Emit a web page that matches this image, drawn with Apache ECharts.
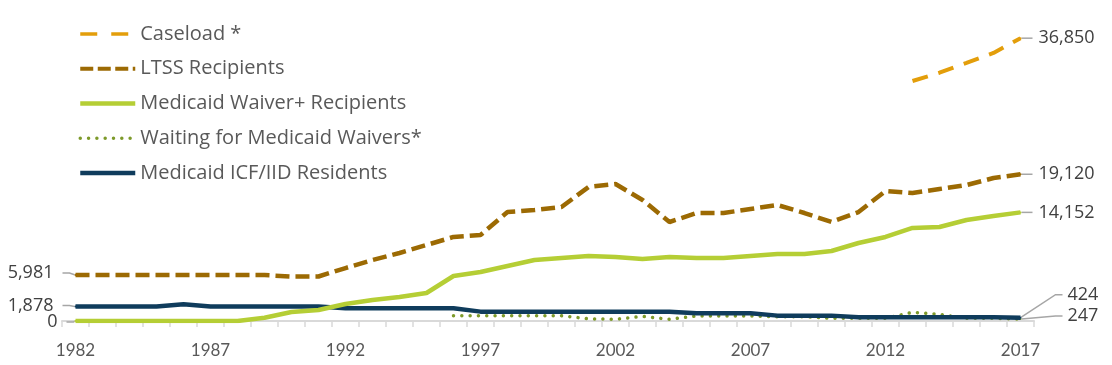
<!DOCTYPE html>
<html><head><meta charset="utf-8">
<script src="https://cdn.jsdelivr.net/npm/echarts@6/dist/echarts.min.js"></script>
<style>html,body{margin:0;padding:0;background:#fff}#c{width:1112px;height:365px}</style>
</head><body><div id="c"></div>
<script>
const years = ['1982','1983','1984','1985','1986','1987','1988','1989','1990','1991',
  '1992','1993','1994','1995','1996','1997','1998','1999','2000','2001',
  '2002','2003','2004','2005','2006','2007','2008','2009','2010','2011',
  '2012','2013','2014','2015','2016','2017'];
const xTickLabels = ['1982','1987','1992','1997','2002','2007','2012','2017'];

const caseload = [null,null,null,null,null,null,null,null,null,null,
  null,null,null,null,null,null,null,null,null,null,
  null,null,null,null,null,null,null,null,null,null,
  null,31270,32350,33620,34920,36850];
const ltss = [5981,5981,5981,5981,5981,5981,5981,5981,5800,5800,
  6900,7950,8860,9900,10950,11200,14200,14460,14850,17460,
  17850,15770,12900,14070,14070,14590,15110,14070,12900,14200,
  16940,16680,17200,17720,18630,19120];
const waiver = [0,0,0,0,0,0,0,430,1170,1430,
  2220,2740,3130,3650,5860,6380,7170,7950,8210,8470,
  8340,8080,8340,8210,8210,8470,8730,8730,9120,10160,
  10950,12120,12250,13160,13680,14152];
const waiting = [null,null,null,null,null,null,null,null,null,null,
  null,null,null,null,690,690,690,690,690,280,
  220,600,220,650,650,650,560,560,350,350,
  350,1130,870,350,350,247];
const icf = [1878,1878,1878,1878,2180,1878,1878,1878,1878,1878,
  1650,1650,1650,1650,1650,1220,1220,1220,1220,1220,
  1220,1220,1220,1000,1000,1000,700,700,700,500,
  500,500,500,500,500,424];

const FONT = 'Lato';
const LABEL_FONT = 'Open Sans';
const LEGEND_FONT = 'Open Sans';
const LABEL_COLOR = '#404040';
const LEADER = '#A6A6A6';

// label specs: index -> {pos, dx, dy, gap}
function buildData(values, color, specs) {
  return values.map((v, i) => {
    const s = specs[i];
    if (!s || v == null) return v;
    return {
      value: v, symbol: 'circle', symbolSize: 2,
      itemStyle: {color: color},
      label: {
        show: true, position: s.pos, distance: 5,
        formatter: p => {
          const t = '{v|' + Number(p.value).toLocaleString('en-US') + '}';
          return s.pos === 'right' ? '{g|\u00a0}' + t : t + '{g|\u00a0}';
        },
        rich: {
          g: {width: s.gap, fontSize: 18, fontFamily: LABEL_FONT},
          v: {fontFamily: LABEL_FONT, fontSize: 18, color: LABEL_COLOR}
        }
      },
      labelLine: {show: true}
    };
  });
}
function layoutFrom(specs) {
  return function (p) {
    const s = specs[p.dataIndex];
    return s ? {dx: s.dx, dy: s.dy} : {};
  };
}
const last = years.length - 1;
function mkSeries(name, values, color, lineStyle, specs, z) {
  return {
    name: name, type: 'line', data: buildData(values, color, specs),
    symbol: 'none', showSymbol: true, showAllSymbol: true,
    z: z,
    itemStyle: {color: color},
    lineStyle: Object.assign({color: color}, lineStyle),
    label: {fontFamily: LABEL_FONT, fontSize: 18, color: LABEL_COLOR},
    labelLine: {show: false, length2: 7, minTurnAngle: 0, lineStyle: {color: LEADER, width: 1.5}},
    labelLayout: layoutFrom(specs),
    emphasis: {disabled: true},
    connectNulls: false
  };
}

const specCase = {}; specCase[last] = {pos: 'right', dx: 6, dy: 0, gap: 6};
const specLtss = {0: {pos: 'left', dx: -7, dy: -2, gap: 9}}; specLtss[last] = {pos: 'right', dx: 6, dy: 0, gap: 6};
const specWaiver = {0: {pos: 'left', dx: -3, dy: 1, gap: 9}}; specWaiver[last] = {pos: 'right', dx: 6, dy: 0, gap: 6};
const specWaiting = {}; specWaiting[last] = {pos: 'right', dx: 36, dy: -3, gap: 5};
const specIcf = {0: {pos: 'left', dx: -7, dy: -1, gap: 9}}; specIcf[last] = {pos: 'right', dx: 36, dy: -23, gap: 5};

const series = [
  mkSeries('Waiting for Medicaid Waivers*', waiting, '#7D9A2A', {width: 3.5, type: [0.01, 8.3], cap: 'round'}, specWaiting, 2),
  mkSeries('Medicaid ICF/IID Residents', icf, '#0F3C5C', {width: 4.5}, specIcf, 3),
  mkSeries('Medicaid Waiver+ Recipients', waiver, '#B5CE35', {width: 4.5}, specWaiver, 4),
  mkSeries('LTSS Recipients', ltss, '#9C6A03', {width: 4.5, type: [14, 6]}, specLtss, 5),
  mkSeries('Caseload *', caseload, '#E39E0B', {width: 4, type: [16, 11]}, specCase, 6)
];

const chart = echarts.init(document.getElementById('c'), null, {renderer: 'canvas'});
chart.setOption({
  animation: false,
  backgroundColor: '#fff',
  grid: {left: 62, right: 78, top: 14, bottom: 44, containLabel: false},
  legend: {
    orient: 'vertical', left: 73, top: 19,
    itemWidth: 55, itemHeight: 14, itemGap: 14.75,
    data: [
      {name: 'Caseload *', lineStyle: {type: [17, 14], width: 3.5}},
      {name: 'LTSS Recipients', lineStyle: {type: [13, 4.5], width: 4}},
      'Medicaid Waiver+ Recipients',
      'Waiting for Medicaid Waivers*',
      'Medicaid ICF/IID Residents'
    ],
    textStyle: {fontFamily: LEGEND_FONT, fontSize: 20, color: '#595959', lineHeight: 20},
    lineStyle: {width: 'inherit'},
    itemStyle: {opacity: 0},
    selectedMode: false
  },
  xAxis: {
    type: 'category', data: years, boundaryGap: true,
    axisLine: {lineStyle: {color: '#D9D9D9', width: 2}},
    axisTick: {show: true, interval: 0, length: 6, lineStyle: {color: '#D9D9D9', width: 1.5}},
    axisLabel: {
      interval: (i, v) => xTickLabels.includes(v),
      margin: 21, fontFamily: FONT, fontSize: 17, color: '#595959'
    },
    splitLine: {show: false}
  },
  yAxis: {type: 'value', min: 0, max: 40000, show: false, splitLine: {show: false}},
  series: series
});
</script>
</body></html>
